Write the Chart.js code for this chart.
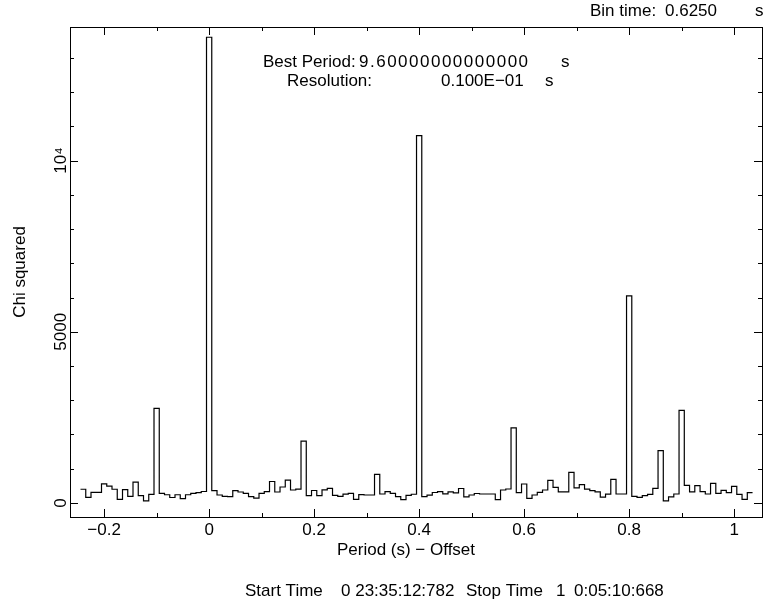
<!DOCTYPE html>
<html>
<head>
<meta charset="utf-8">
<script src="https://cdn.jsdelivr.net/npm/chart.js@4/dist/chart.umd.min.js"></script>
<style>
  html, body { margin: 0; padding: 0; background: #fff; }
  #wrap { position: relative; width: 763px; height: 608px; }
</style>
</head>
<body>
<div id="wrap"><canvas id="chart" width="763" height="608"></canvas></div>
<script>
// period offset of each trial bin (s), bin width 0.01
const periodOffset = [
  -0.24, -0.23, -0.22, -0.21, -0.20, -0.19, -0.18, -0.17, -0.16, -0.15,
  -0.14, -0.13, -0.12, -0.11, -0.10, -0.09, -0.08, -0.07, -0.06, -0.05,
  -0.04, -0.03, -0.02, -0.01, 0.00, 0.01, 0.02, 0.03, 0.04, 0.05,
  0.06, 0.07, 0.08, 0.09, 0.10, 0.11, 0.12, 0.13, 0.14, 0.15,
  0.16, 0.17, 0.18, 0.19, 0.20, 0.21, 0.22, 0.23, 0.24, 0.25,
  0.26, 0.27, 0.28, 0.29, 0.30, 0.31, 0.32, 0.33, 0.34, 0.35,
  0.36, 0.37, 0.38, 0.39, 0.40, 0.41, 0.42, 0.43, 0.44, 0.45,
  0.46, 0.47, 0.48, 0.49, 0.50, 0.51, 0.52, 0.53, 0.54, 0.55,
  0.56, 0.57, 0.58, 0.59, 0.60, 0.61, 0.62, 0.63, 0.64, 0.65,
  0.66, 0.67, 0.68, 0.69, 0.70, 0.71, 0.72, 0.73, 0.74, 0.75,
  0.76, 0.77, 0.78, 0.79, 0.80, 0.81, 0.82, 0.83, 0.84, 0.85,
  0.86, 0.87, 0.88, 0.89, 0.90, 0.91, 0.92, 0.93, 0.94, 0.95,
  0.96, 0.97, 0.98, 0.99, 1.00, 1.01, 1.02, 1.03
];
const binWidth = 0.01;

const chiSquared = [
  400, 166, 312, 312, 560, 490, 400, 107, 390, 195,
  610, 215, 62, 250, 2760, 282, 240, 160, 240, 126,
  240, 280, 300, 335, 13600, 359, 233, 194, 185, 359,
  320, 282, 185, 140, 282, 330, 627, 320, 466, 665,
  379, 403, 1808, 214, 364, 214, 380, 427, 224, 190,
  257, 282, 107, 243, 233, 233, 835, 262, 330, 282,
  185, 95, 219, 255, 10730, 185, 228, 306, 330, 267,
  325, 297, 422, 180, 233, 277, 262, 262, 262, 95,
  379, 408, 2190, 301, 554, 136, 233, 311, 379, 661,
  457, 321, 321, 894, 440, 535, 403, 359, 325, 170,
  257, 690, 262, 262, 6050, 194, 165, 214, 253, 427,
  1530, 58, 175, 262, 2702, 515, 321, 505, 330, 262,
  573, 282, 369, 301, 486, 253, 107, 301
];

const xMajorTicks = [-0.2, 0, 0.2, 0.4, 0.6, 0.8, 1];
const xTickLabels = ['\u22120.2', '0', '0.2', '0.4', '0.6', '0.8', '1'];
const xMinorTicks = [-0.1, 0.1, 0.3, 0.5, 0.7, 0.9];
const yMajorTicks = [0, 5000, 10000];
const yTickLabels = ['0', '5000', '10\u2074'];
const yMinorTicks = [1000, 2000, 3000, 4000, 6000, 7000, 8000, 9000, 11000, 12000, 13000];

const FONT = '"Liberation Sans", Arial, Helvetica, sans-serif';

// histogram: one point at each bin's left edge, plus the closing right edge
const histPoints = periodOffset.map((p, i) => ({ x: p - binWidth / 2, y: chiSquared[i] }));
histPoints.push({
  x: periodOffset[periodOffset.length - 1] + binWidth / 2,
  y: chiSquared[chiSquared.length - 1]
});

const frameAndText = {
  id: 'frameAndText',
  afterDraw(chart) {
    const { ctx, chartArea: a, scales: { x, y } } = chart;
    ctx.save();
    ctx.strokeStyle = '#000';
    ctx.lineWidth = 1;
    ctx.strokeRect(a.left + 0.5, a.top + 0.5, a.right - a.left, a.bottom - a.top);

    // inward ticks on all four sides
    ctx.beginPath();
    const xTick = (v, len) => {
      const px = Math.round(x.getPixelForValue(v)) + 0.5;
      ctx.moveTo(px, a.bottom); ctx.lineTo(px, a.bottom - len);
      ctx.moveTo(px, a.top); ctx.lineTo(px, a.top + len);
    };
    const yTick = (v, len) => {
      const py = Math.round(y.getPixelForValue(v)) + 0.5;
      ctx.moveTo(a.left, py); ctx.lineTo(a.left + len, py);
      ctx.moveTo(a.right, py); ctx.lineTo(a.right - len, py);
    };
    xMajorTicks.forEach(v => xTick(v, 8));
    xMinorTicks.forEach(v => xTick(v, 4));
    yMajorTicks.forEach(v => yTick(v, 8));
    yMinorTicks.forEach(v => yTick(v, 4));
    ctx.stroke();

    ctx.fillStyle = '#000';
    ctx.font = '17px ' + FONT;

    // y tick labels, rotated
    ctx.textAlign = 'center';
    ctx.textBaseline = 'alphabetic';
    yMajorTicks.forEach((v, i) => {
      ctx.save();
      ctx.translate(66, y.getPixelForValue(v));
      ctx.rotate(-Math.PI / 2);
      ctx.fillText(yTickLabels[i], 0, 0);
      ctx.restore();
    });

    // axis titles
    ctx.save();
    ctx.translate(25, (a.top + a.bottom) / 2);
    ctx.rotate(-Math.PI / 2);
    ctx.fillText('Chi squared', 0, 0);
    ctx.restore();
    ctx.fillText('Period (s) \u2212 Offset', 406, 555);

    // annotations
    ctx.textAlign = 'left';
    ctx.fillText('Bin time:', 590, 16);
    ctx.fillText('0.6250', 665, 16);
    ctx.fillText('s', 755, 16);

    ctx.fillText('Best Period:', 263, 67);
    ctx.letterSpacing = '1.5px';
    ctx.fillText('9.60000000000000', 359, 67);
    ctx.letterSpacing = '0px';
    ctx.fillText('s', 561, 67);
    ctx.fillText('Resolution:', 287, 86);
    ctx.fillText('0.100E\u221201', 441, 86);
    ctx.fillText('s', 545, 86);

    ctx.fillText('Start Time', 245, 596);
    ctx.fillText('0 23:35:12:782', 341, 596);
    ctx.fillText('Stop Time', 466, 596);
    ctx.fillText('1', 556, 596);
    ctx.fillText('0:05:10:668', 574, 596);
    ctx.restore();
  }
};

new Chart(document.getElementById('chart'), {
  type: 'line',
  data: {
    datasets: [{
      data: histPoints,
      stepped: 'before',
      borderColor: '#000',
      borderWidth: 1.2,
      pointRadius: 0,
      fill: false
    }]
  },
  options: {
    responsive: false,
    animation: false,
    devicePixelRatio: 1,
    layout: { padding: { top: 27, right: 1, left: 0, bottom: 0 } },
    plugins: { legend: { display: false }, tooltip: { enabled: false } },
    scales: {
      x: {
        type: 'linear',
        min: -0.265,
        max: 1.053,
        grid: { display: false, drawTicks: false },
        border: { display: false },
        afterBuildTicks: s => { s.ticks = xMajorTicks.map(v => ({ value: v })); },
        afterFit: s => { s.height = 91; },
        ticks: {
          color: '#000',
          padding: 3,
          maxRotation: 0,
          autoSkip: false,
          font: { family: FONT, size: 17 },
          callback: (v, i) => xTickLabels[i]
        }
      },
      y: {
        type: 'linear',
        min: -410,
        max: 13900,
        grid: { display: false, drawTicks: false },
        border: { display: false },
        afterFit: s => { s.width = 70; },
        ticks: { display: false }
      }
    }
  },
  plugins: [frameAndText]
});
</script>
</body>
</html>
